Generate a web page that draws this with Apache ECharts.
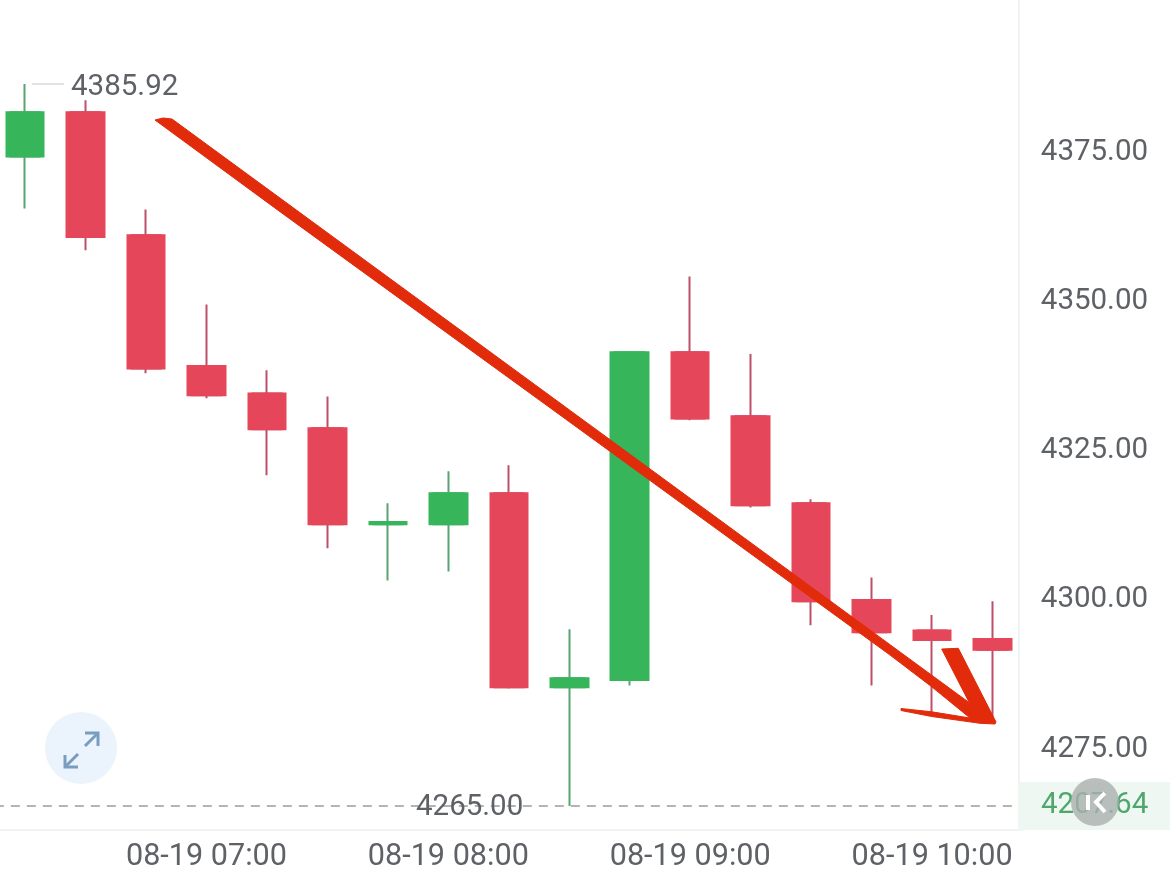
<!DOCTYPE html>
<html>
<head>
<meta charset="utf-8">
<style>html,body{margin:0;padding:0;background:#fff}#c{width:1170px;height:876px}</style>
<script src="https://cdn.jsdelivr.net/npm/echarts@6/dist/echarts.min.js"></script>
</head>
<body>
<div id="c"></div>
<script>
const categories = ['08-19 06:15','08-19 06:30','08-19 06:45','08-19 07:00','08-19 07:15','08-19 07:30','08-19 07:45','08-19 08:00','08-19 08:15','08-19 08:30','08-19 08:45','08-19 09:00','08-19 09:15','08-19 09:30','08-19 09:45','08-19 10:00','08-19 10:15'];
const opens  = [4373.8,4381.2,4360.6,4338.7,4334.1,4328.3,4312.2,4312.2,4317.4,4284.9,4286.1,4341.0,4330.3,4315.7,4299.5,4294.4,4293.0];
const closes = [4381.2,4360.3,4338.3,4333.8,4328.1,4312.2,4312.6,4317.4,4284.9,4286.4,4341.0,4329.9,4315.4,4299.3,4294.1,4292.8,4291.2];
const lows   = [4365.1,4358.1,4337.5,4333.3,4320.4,4308.2,4302.8,4304.3,4284.7,4265.0,4285.2,4329.6,4315.0,4295.3,4285.2,4280.2,4279.0];
const highs  = [4385.92,4383.2,4364.9,4349.0,4338.0,4333.6,4315.7,4321.1,4322.1,4294.6,4341.2,4353.7,4340.7,4316.4,4303.3,4297.0,4299.3];
const yTicks = [4275,4300,4325,4350,4375];
const highLabel = 4385.92;
const lowLabel = 4265.00;
const lastPriceText = '4207.64';

const GREEN='#36b55b', GREENW='#5aa373', RED='#e54659', REDW='#bd5069', TXT='#5e6165';
const FONT='Roboto', FS=29.5;
const candles = categories.map((_,i)=>[opens[i],closes[i],lows[i],highs[i]]);
const bodies = categories.map((_,i)=>[opens[i],closes[i],Math.min(opens[i],closes[i]),Math.max(opens[i],closes[i])]);

const chart = echarts.init(document.getElementById('c'));
chart.setOption({
  animation:false,
  backgroundColor:'#fff',
  grid:{left:-5.2,top:0,width:1028,height:830,containLabel:false,outerBoundsMode:'none'},
  xAxis:{type:'category',data:categories,
    axisLine:{show:true,lineStyle:{color:'#f1f2f2',width:2}},
    axisTick:{show:false},splitLine:{show:false},
    axisLabel:{interval:(i)=>i%4===3,color:TXT,fontFamily:FONT,fontSize:30.6,margin:12,
      formatter:v=>v}},
  yAxis:{type:'value',min:4261,max:4400,position:'right',scale:true,
    axisLine:{show:false},axisTick:{show:false},splitLine:{show:false},
    axisLabel:{customValues:yTicks,color:TXT,fontFamily:FONT,fontSize:FS,margin:18,verticalAlign:'top',lineHeight:6,formatter:v=>v.toFixed(2)}},
  series:[{
    type:'candlestick',data:candles,barWidth:30,clip:false,
    itemStyle:{color:GREEN,color0:RED,borderColor:GREENW,borderColor0:REDW,borderWidth:2},
    markLine:{silent:true,symbol:'none',label:{show:false},
      lineStyle:{color:'#9a9a9a',type:[9,7],width:1.5},
      data:[{yAxis:lowLabel}]},
    markPoint:{silent:true,symbol:'circle',symbolSize:0,
      data:[
        {coord:[9,lowLabel],label:{show:true,position:'left',distance:46,offset:[0,2],formatter:lowLabel.toFixed(2),color:TXT,fontFamily:FONT,fontSize:FS}},
        {coord:[0,highLabel],label:{show:true,position:'right',distance:46,offset:[0,4],formatter:highLabel.toFixed(2),color:TXT,fontFamily:FONT,fontSize:FS}}
      ]}
  },{
    type:'candlestick',data:bodies,barWidth:38,clip:false,
    itemStyle:{color:GREEN,color0:RED,borderColor:GREEN,borderColor0:RED,borderWidth:2}
  }],
  graphic:[
    {type:'line',z:50,shape:{x1:32,y1:84,x2:64,y2:84},style:{stroke:'#d9dbdb',lineWidth:1.5}},
    {type:'line',z:50,shape:{x1:1019,y1:0,x2:1019,y2:830},style:{stroke:'#f1f3f3',lineWidth:2}},
    {type:'rect',z:51,shape:{x:1018,y:782,width:152,height:48},style:{fill:'#eef7f1'}},
    {type:'text',z:52,x:1041,y:806,style:{text:lastPriceText,fill:'#4fa76d',font:'29.5px Roboto',textVerticalAlign:'middle'}},
    {type:'circle',z:53,shape:{cx:1095,cy:802,r:24},style:{fill:'rgba(170,175,175,0.8)'}},
    {type:'polyline',z:54,shape:{points:[[1105,793],[1096,802],[1105,812]]},style:{stroke:'#fff',lineWidth:4,fill:null}},
    {type:'line',z:54,shape:{x1:1088,y1:795,x2:1088,y2:810},style:{stroke:'#fff',lineWidth:4}},
    {type:'circle',z:53,shape:{cx:81,cy:748,r:36},style:{fill:'#ebf3fc'}},
    {type:'polyline',z:54,shape:{points:[[85,733],[98,733],[98,746]]},style:{stroke:'#7a9dbf',lineWidth:3,fill:null}},
    {type:'line',z:54,shape:{x1:98,y1:733,x2:85,y2:746},style:{stroke:'#7a9dbf',lineWidth:3}},
    {type:'polyline',z:54,shape:{points:[[65,755],[65,767],[78,767]]},style:{stroke:'#7a9dbf',lineWidth:3,fill:null}},
    {type:'line',z:54,shape:{x1:65,y1:767,x2:78,y2:754},style:{stroke:'#7a9dbf',lineWidth:3}},
    {type:'polygon',z:60,shape:{points:[[155,120],[163,118],[172,119],[969.3,702.7],[941.7,649],[958.3,648.3],[996,722],[995,724],[980,723.3],[931.7,716.5],[901,710.5],[901,708.5],[931.7,711.8],[970,718],[932,687],[890,655],[560,415],[280,211.7]]},style:{fill:'#e12b0a',stroke:'#e12b0a',lineWidth:1,lineJoin:'round'}}
  ]
});
</script>
</body>
</html>
